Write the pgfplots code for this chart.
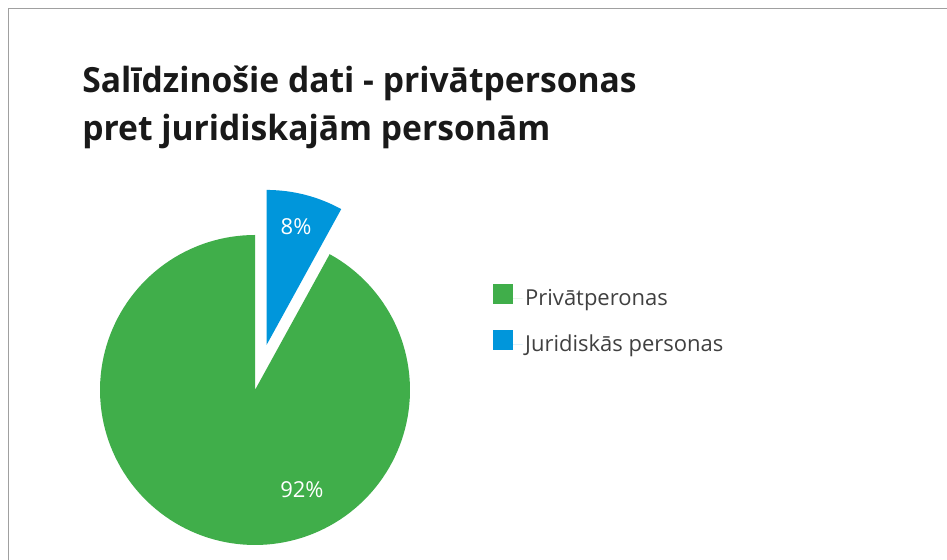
\documentclass[border=0pt]{standalone}
\usepackage{pgfplots}
\pgfplotsset{compat=1.18}
\usepackage{fontspec}
\setmainfont{Open Sans}
\definecolor{pgreen}{RGB}{64,174,74}
\definecolor{pblue}{RGB}{0,150,219}
\definecolor{frame}{RGB}{160,160,160}
\definecolor{txt}{RGB}{64,64,64}
\begin{document}
\begin{tikzpicture}[x=0.75pt,y=0.75pt]
\useasboundingbox (0,0) rectangle (947,560);
\begin{scope}
\clip (0,0) rectangle (947,560);
\fill[white] (0,0) rectangle (947,560);
\draw[frame, line width=1.2pt] (8.5,-20) -- (8.5,551.5) -- (970,551.5);
\end{scope}
\node[anchor=base west, inner sep=0pt, font=\fontsize{26}{32}\selectfont\bfseries\addfontfeature{FakeStretch=0.97}, text=black!90] at (82,467) {Salīdzinošie dati - privātpersonas};
\node[anchor=base west, inner sep=0pt, font=\fontsize{26}{32}\selectfont\bfseries\addfontfeature{FakeStretch=0.97}, text=black!90] at (82,419) {pret juridiskajām personām};
\pgfmathsetmacro{\vA}{92}
\pgfmathsetmacro{\vB}{8}
\pgfmathsetmacro{\aB}{90-360*(\vB/(\vA+\vB))}
\pgfmathsetmacro{\aEnd}{90+360*(\vA/(\vA+\vB))}
\pgfmathsetmacro{\aMid}{(90+\aB)/2}
\pgfmathsetmacro{\ox}{0.30*cos(\aMid)}
\pgfmathsetmacro{\oy}{0.30*sin(\aMid)}
\begin{axis}[
  x=116.25pt, y=116.25pt,
  anchor=origin, at={(191.25pt,127.5pt)},
  xmin=-1.2, xmax=1.2, ymin=-1.2, ymax=1.5,
  axis lines=none, clip=false,
  legend style={at={(axis cs:1.535,0.683)}, anchor=north west, draw=none, fill=none,
    font=\fontsize{16.5}{20}\selectfont, text=txt, row sep=15pt, inner sep=0pt,
    nodes={inner sep=2pt}},
  legend cell align=left,
  legend image code/.code={\fill[#1] (0pt,-4.5pt) rectangle (15pt,10.5pt); \path (0pt,0pt) -- (22pt,0pt);},
]
\addplot[draw=none, fill=pgreen, domain=90:\aEnd, samples=150] ({cos(x)},{sin(x)}) -- (axis cs:0,0) -- cycle;
\addlegendentry{Privātperonas}
\addplot[draw=none, fill=pblue, domain=\aB:90, samples=30] ({\ox+cos(x)},{\oy+sin(x)}) -- (axis cs:\ox,\oy) -- cycle;
\addlegendentry{Juridiskās personas}
\node[text=white, font=\fontsize{16.5}{20}\selectfont] at (axis cs:0.265,1.052) {8\%};
\node[text=white, font=\fontsize{16.5}{20}\selectfont] at (axis cs:0.303,-0.645) {92\%};
\end{axis}
\end{tikzpicture}
\end{document}
